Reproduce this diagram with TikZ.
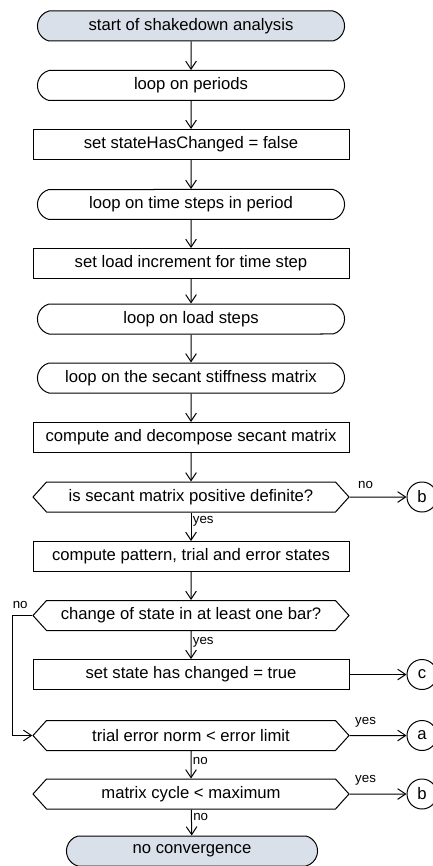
\documentclass[tikz,border=0pt]{standalone}
\usepackage{fontspec}
\setmainfont{Liberation Sans}
\usepackage{tikz}
\usetikzlibrary{shapes.geometric, shapes.misc, shapes.symbols, positioning, arrows.meta, calc}

\definecolor{termfill}{HTML}{DAE0EA}

\tikzset{
    boxtext/.style={font=\fontsize{12.5}{15}\selectfont},
    terminal/.style={draw, fill=termfill, boxtext,
                     shape=rounded rectangle,
                     rounded rectangle arc length=150,
                     minimum width=237pt,
                     minimum height=22.5pt},
    loopbox/.style={draw, boxtext,
                    shape=rounded rectangle,
                    rounded rectangle arc length=150,
                    minimum width=237pt,
                    minimum height=22.5pt},
    procbox/.style={draw, boxtext,
                    shape=rectangle,
                    minimum width=237pt,
                    minimum height=22.5pt},
    decision/.style={draw, boxtext,
                     shape=signal,
                     signal to=west and east,
                     signal pointer angle=96,
                     minimum width=237pt,
                     minimum height=22.5pt},
    jump/.style={draw, boxtext, shape=circle, minimum size=22.5pt, inner sep=0pt},
    flow/.style={-{Straight Barb[length=6pt,width=8pt]}},
    answer/.style={font=\fontsize{10}{12}\selectfont, inner sep=1pt}
}

\begin{document}
\begin{tikzpicture}[x=0.75pt, y=-0.75pt, line width=0.75pt]
        \useasboundingbox (0,0) rectangle (432,866);

        % main column
        \node (start) [terminal] at (191,26) {start of shakedown analysis};
        \node (periods) [loopbox] at (191,85.5) {loop on periods};
        \node (resetstate) [procbox] at (191,144.5) {set stateHasChanged = false};
        \node (timesteps) [loopbox] at (191,204.5) {loop on time steps in period};
        \node (loadinc) [procbox] at (191,263.5) {set load increment for time step};
        \node (loadsteps) [loopbox] at (191,319) {loop on load steps};
        \node (secantloop) [loopbox] at (191,378) {loop on the secant stiffness matrix};
        \node (decompose) [procbox] at (191,437.5) {compute and decompose secant matrix};
        \node (posdef) [decision] at (191,497) {is secant matrix positive definite?};
        \node (pattern) [procbox] at (191,556.5) {compute pattern, trial and error states};
        \node (changed) [decision] at (191,615.5) {change of state in at least one bar?};
        \node (setchanged) [procbox] at (191,674.5) {set state has changed = true};
        \node (trialerr) [decision] at (191,735.5) {trial error norm < error limit};
        \node (cycle) [decision] at (191,794) {matrix cycle < maximum};
        \node (noconv) [terminal, minimum width=195pt] at (192,851) {no convergence};

        % off-page jumps
        \node (jumpb1) [jump] at (422,497) {b};
        \node (jumpc) [jump] at (422,674.5) {c};
        \node (jumpa) [jump] at (422,735.5) {a};
        \node (jumpb2) [jump] at (422,794) {b};

        \draw[flow] (start) -- (periods);
        \draw[flow] (periods) -- (resetstate);
        \draw[flow] (resetstate) -- (timesteps);
        \draw[flow] (timesteps) -- (loadinc);
        \draw[flow] (loadinc) -- (loadsteps);
        \draw[flow] (loadsteps) -- (secantloop);
        \draw[flow] (secantloop) -- (decompose);
        \draw[flow] (decompose) -- (posdef);
        \draw[flow] (posdef) -- node[answer, right, pos=0.3] {yes} (pattern);
        \draw[flow] (posdef) -- node[answer, above=5pt, pos=0.28] {no} (jumpb1);
        \draw[flow] (pattern) -- (changed);
        \draw[flow] (changed) -- node[answer, right, pos=0.4] {yes} (setchanged);
        \draw[flow] (setchanged) -- (jumpc);
        \draw[flow] (changed.west) -- ++(-20,0)
            node[answer, above right, inner sep=0pt, yshift=5pt] {no}
            |- (trialerr.west);
        \draw[flow] (trialerr) -- node[answer, above=5pt, pos=0.28] {yes} (jumpa);
        \draw[flow] (trialerr) -- node[answer, right, pos=0.35] {no} (cycle);
        \draw[flow] (cycle) -- node[answer, above=5pt, pos=0.28] {yes} (jumpb2);
        \draw[flow] (cycle) -- node[answer, right, pos=0.3] {no} (noconv);
\end{tikzpicture}
\end{document}
